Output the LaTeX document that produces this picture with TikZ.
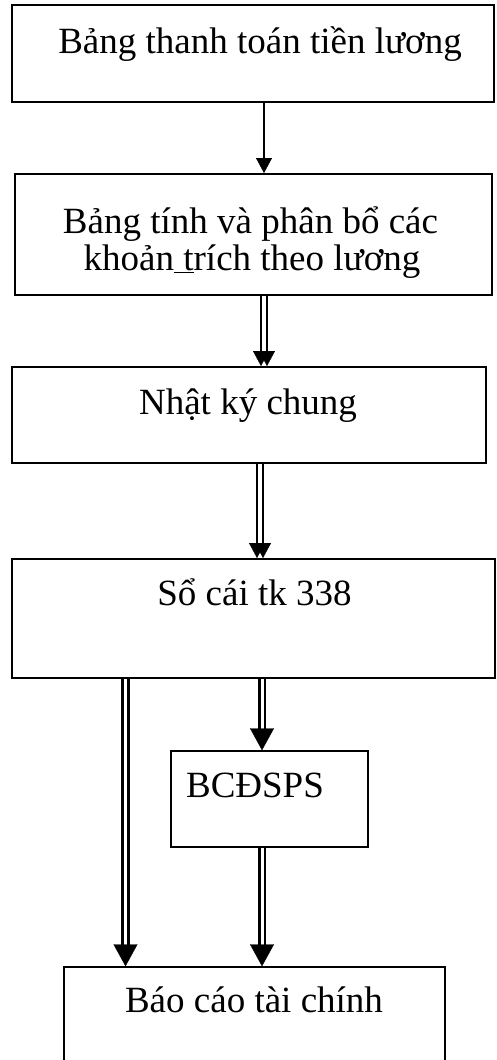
\documentclass[tikz,border=0pt]{standalone}
\usepackage{fontspec}
\setmainfont{Liberation Serif}
\usetikzlibrary{arrows.meta}
\tikzset{
  box/.style={draw, line width=2pt, inner sep=0pt},
  thinbox/.style={draw, line width=1.4pt, inner sep=0pt},
  txt/.style={anchor=base, inner sep=0pt, font=\fontsize{37}{40}\selectfont},
  sarrow/.style={line width=2.6pt, -{Triangle[width=16pt,length=15pt,line width=0.4pt]}},
  dblshaft/.style={draw, line width=2.6pt, double, double distance=3pt, shorten >=16pt},
  bighead/.style={white, line width=0.4pt, shorten <=4pt, -{Triangle[width=24pt,length=22pt,line width=0.4pt,black,fill=black]}}
}
\begin{document}
\begin{tikzpicture}[x=1pt,y=-1pt]
\useasboundingbox (0,0) rectangle (497,1060);
\clip (0,0) rectangle (497,1060);
% boxes
\node[box, minimum width=482pt, minimum height=97pt] (b1) at (253,53.5) {};
\node[box, minimum width=477pt, minimum height=121pt] (b2) at (253.5,234.5) {};
\node[box, minimum width=474pt, minimum height=96pt] (b3) at (249,415) {};
\node[box, minimum width=483pt, minimum height=119pt] (b4) at (253.5,618.5) {};
\node[thinbox, minimum width=197pt, minimum height=96pt] (b5) at (269.5,799) {};
\node[thinbox, minimum width=381pt, minimum height=140pt] (b6) at (254.5,1037) {};
% texts
\node[txt] (t1) at (260,53) {Bảng thanh toán tiền lương};
\node[txt] (t2a) at (250.5,233) {Bảng tính và phân bổ các};
\node[txt] (t2b) at (252,270) {khoản\underline{ t}rích theo lương};
\node[txt] (t3) at (248,414) {Nhật ký chung};
\node[txt] (t4) at (254.5,605) {Sổ cái tk 338};
\node[txt] (t5) at (255,797) {BCĐSPS};
\node[txt] (t6) at (254,1012) {Báo cáo tài chính};
% x positions of connectors
\coordinate (c1) at (264,0);
\coordinate (c2l) at (261,0);
\coordinate (c2r) at (267,0);
\coordinate (c3l) at (257,0);
\coordinate (c3r) at (263,0);
\coordinate (c4) at (125.5,0);
\coordinate (c5) at (262,0);
% connectors
\draw[sarrow] (b1.south -| c1) -- (b2.north -| c1);
\draw[sarrow] (b2.south -| c2l) -- (b3.north -| c2l);
\draw[sarrow] (b2.south -| c2r) -- (b3.north -| c2r);
\draw[sarrow] (b3.south -| c3l) -- (b4.north -| c3l);
\draw[sarrow] (b3.south -| c3r) -- (b4.north -| c3r);
\draw[dblshaft] (b4.south -| c4) -- (b6.north -| c4);
\draw[bighead] (b4.south -| c4) -- (b6.north -| c4);
\draw[dblshaft] (b4.south -| c5) -- (b5.north -| c5);
\draw[bighead] (b4.south -| c5) -- (b5.north -| c5);
\draw[dblshaft] (b5.south -| c5) -- (b6.north -| c5);
\draw[bighead] (b5.south -| c5) -- (b6.north -| c5);
\end{tikzpicture}
\end{document}
